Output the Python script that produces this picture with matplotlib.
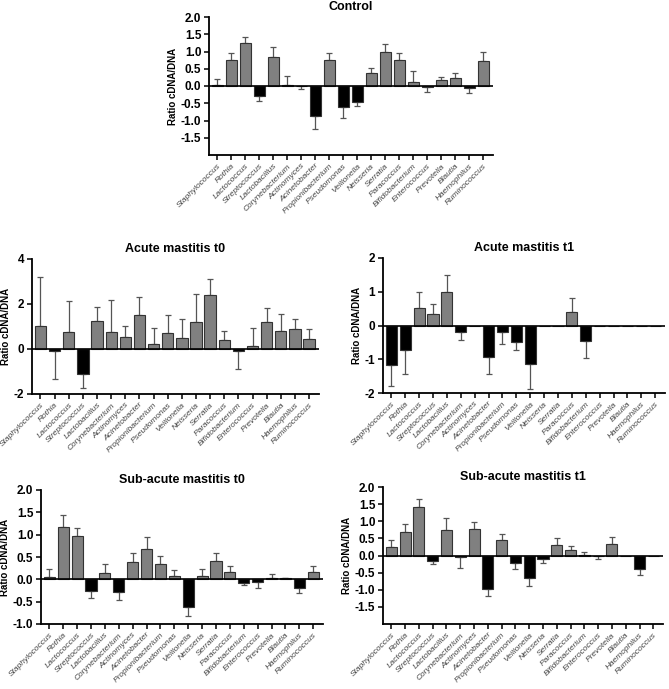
import numpy as np
import matplotlib.pyplot as plt

plt.rcParams['font.family'] = ['Liberation Sans', 'DejaVu Sans']

genera = ["Staphylococcus", "Rothia", "Lactococcus", "Streptococcus", "Lactobacillus",
          "Corynebacterium", "Actinomyces", "Acinetobacter", "Propionibacterium",
          "Pseudomonas", "Veillonella", "Neisseria", "Serratia", "Paracoccus",
          "Bifidobacterium", "Enterococcus", "Prevotella", "Blautia", "Haemophilus",
          "Ruminococcus"]

# mean ratio and one-sided error (SEM) per genus
control = [0.02, 0.74, 1.25, -0.28, 0.84, 0.04, -0.01, -0.87, 0.76, -0.62,
           -0.45, 0.37, 1.00, 0.74, 0.11, -0.03, 0.17, 0.22, -0.05, 0.72]
control_err = [0.18, 0.23, 0.16, 0.16, 0.28, 0.24, 0.08, 0.38, 0.19, 0.30,
               0.13, 0.14, 0.21, 0.21, 0.32, 0.15, 0.08, 0.15, 0.14, 0.26]

acute_t0 = [1.02, -0.10, 0.75, -1.12, 1.25, 0.75, 0.52, 1.50, 0.20, 0.73,
            0.50, 1.22, 2.42, 0.40, -0.08, 0.12, 1.22, 0.78, 0.88, 0.45]
acute_t0_err = [2.18, 1.25, 1.37, 0.60, 0.60, 1.42, 0.50, 0.80, 0.73, 0.77,
                0.83, 1.23, 0.71, 0.38, 0.79, 0.81, 0.60, 0.77, 0.45, 0.43]

acute_t1 = [-1.18, -0.72, 0.52, 0.33, 1.00, -0.20, 0, -0.93, -0.20, -0.48,
            -1.15, 0, 0, 0.40, -0.47, 0, 0, 0, 0, 0]
acute_t1_err = [0.62, 0.71, 0.46, 0.30, 0.50, 0.22, 0, 0.52, 0.35, 0.24,
                0.73, 0, 0, 0.42, 0.48, 0, 0, 0, 0, 0]

subacute_t0 = [0.05, 1.17, 0.96, -0.27, 0.14, -0.29, 0.38, 0.68, 0.34, 0.07,
               -0.63, 0.08, 0.40, 0.16, -0.08, -0.05, 0.04, 0.02, -0.19, 0.17]
subacute_t0_err = [0.19, 0.27, 0.20, 0.15, 0.21, 0.18, 0.20, 0.27, 0.19, 0.13,
                   0.19, 0.15, 0.20, 0.13, 0.04, 0.15, 0.08, 0.02, 0.12, 0.12]

subacute_t1 = [0.24, 0.68, 1.42, -0.17, 0.73, -0.05, 0.76, -0.98, 0.45, -0.22,
               -0.67, -0.10, 0.30, 0.16, 0.01, -0.01, 0.33, 0, -0.40, 0]
subacute_t1_err = [0.20, 0.25, 0.23, 0.08, 0.37, 0.32, 0.21, 0.20, 0.19, 0.18,
                   0.23, 0.12, 0.20, 0.11, 0.08, 0.09, 0.20, 0, 0.18, 0]

W, H = 669, 689
fig = plt.figure(figsize=(W / 100, H / 100), dpi=100)


def px_axes(left, top, right, bottom):
    return fig.add_axes([left / W, 1 - bottom / H, (right - left) / W, (bottom - top) / H])


def panel(ax, vals, errs, title, ylim, yticks, fmt):
    vals = np.array(vals, dtype=float)
    errs = np.array(errs, dtype=float)
    x = np.arange(len(genera))
    colors = np.where(vals < 0, '#000000', '#808080')
    ax.bar(x, vals, width=0.8, color=colors, edgecolor='#333333', linewidth=0.8, zorder=2)
    m = errs > 0
    lower = np.where(vals < 0, errs, 0)
    upper = np.where(vals >= 0, errs, 0)
    ax.errorbar(x[m], vals[m], yerr=[lower[m], upper[m]], fmt='none',
                ecolor='#555555', elinewidth=0.9, capsize=2.5, capthick=0.9, zorder=1)
    ax.axhline(0, color='black', lw=1.2, zorder=3)
    ax.set_xlim(-0.6, 19.7)
    ax.set_ylim(*ylim)
    ax.set_yticks(yticks)
    ax.set_yticklabels([fmt % t for t in yticks], fontweight='bold', fontsize=8.5)
    ax.set_xticks(x)
    ax.set_xticklabels(genera, rotation=45, ha='right', rotation_mode='anchor',
                       fontsize=6, style='italic', color='#444444')
    ax.spines['top'].set_visible(False)
    ax.spines['right'].set_visible(False)
    for s in ('left', 'bottom'):
        ax.spines[s].set_linewidth(1.3)
    ax.tick_params(width=1.1, length=3.5, pad=2)
    ax.set_ylabel('Ratio cDNA/DNA', fontweight='bold', fontsize=7, labelpad=2)
    ax.set_title(title, fontweight='bold', fontsize=9, pad=5)


ax = px_axes(209, 17, 493, 155)
panel(ax, control, control_err, 'Control', (-2, 2),
      [-1.5, -1.0, -0.5, 0.0, 0.5, 1.0, 1.5, 2.0], '%.1f')

ax = px_axes(32, 259, 319, 394)
panel(ax, acute_t0, acute_t0_err, 'Acute mastitis t0', (-2, 4), [-2, 0, 2, 4], '%d')

ax = px_axes(383, 258, 665, 393)
panel(ax, acute_t1, acute_t1_err, 'Acute mastitis t1', (-2, 2), [-2, -1, 0, 1, 2], '%d')

ax = px_axes(41, 490, 323, 624)
panel(ax, subacute_t0, subacute_t0_err, 'Sub-acute mastitis t0', (-1, 2),
      [-1.0, -0.5, 0.0, 0.5, 1.0, 1.5, 2.0], '%.1f')

ax = px_axes(383, 487, 663, 624)
panel(ax, subacute_t1, subacute_t1_err, 'Sub-acute mastitis t1', (-2, 2),
      [-1.5, -1.0, -0.5, 0.0, 0.5, 1.0, 1.5, 2.0], '%.1f')

fig.savefig('out.png', dpi=100)
